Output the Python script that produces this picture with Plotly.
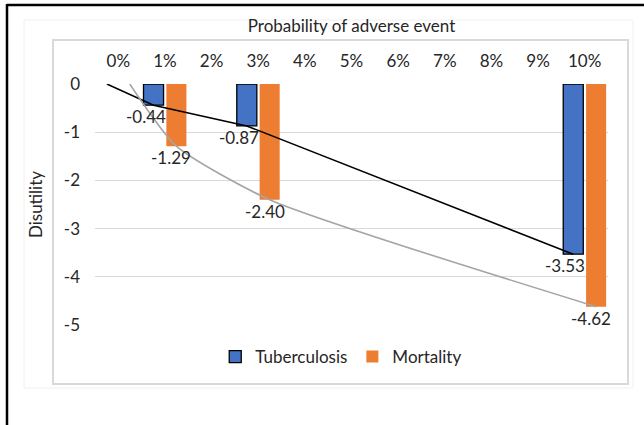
import plotly.graph_objects as go

# Probability of adverse event (percent) and disutility values
prob_pct = [0, 1, 3, 10]
tb_values = [0, -0.44, -0.87, -3.53]
mort_values = [0, -1.29, -2.40, -4.62]
tick_pct = list(range(0, 11))
tick_labels = [f"{p}%" for p in tick_pct]
y_ticks = [0, -1, -2, -3, -4, -5]
y_tick_labels = [str(v) for v in y_ticks]

BLUE = "#4472C4"
ORANGE = "#ED7D31"
GRID = "#D9D9D9"
FONT = "Lato"
FS = 17
TXT = "#262626"

W, H = 644, 425
ML, MR, MT, MB = 95, 36, 84, 100
PW, PH = W - ML - MR, H - MT - MB

BAR_W = 0.43
OFF_TB = -0.46
OFF_MO = 0.03
c_tb = OFF_TB + BAR_W / 2
c_mo = OFF_MO + BAR_W / 2

bar_x = prob_pct[1:]

fig = go.Figure()

fig.add_trace(go.Bar(
    x=bar_x, y=tb_values[1:], name="Tuberculosis",
    width=BAR_W, offset=OFF_TB,
    marker=dict(color=BLUE, line=dict(color="#000000", width=1.3)),
))
fig.add_trace(go.Bar(
    x=bar_x, y=mort_values[1:], name="Mortality",
    width=BAR_W, offset=OFF_MO,
    marker=dict(color=ORANGE, line=dict(width=0)),
))

# Trend lines through the bar ends
fig.add_trace(go.Scatter(
    x=[p + c_tb for p in prob_pct], y=tb_values, mode="lines",
    line=dict(color="#000000", width=1.6), showlegend=False,
    cliponaxis=False, hoverinfo="skip",
))
fig.add_trace(go.Scatter(
    x=[p + c_mo for p in prob_pct], y=mort_values, mode="lines",
    line=dict(color="#A5A5A5", width=1.6, shape="spline", smoothing=0.6),
    showlegend=False, cliponaxis=False, hoverinfo="skip",
))

# Value labels under each bar
annotations = []
for p, v in zip(prob_pct[1:], tb_values[1:]):
    annotations.append(dict(x=p + c_tb, y=v, text=f"{v:.2f}", showarrow=False,
                            xanchor="center", yanchor="top", xshift=-8, yshift=1,
                            font=dict(family=FONT, size=FS, color=TXT)))
for p, v in zip(prob_pct[1:], mort_values[1:]):
    annotations.append(dict(x=p + c_mo, y=v, text=f"{v:.2f}", showarrow=False,
                            xanchor="center", yanchor="top", xshift=-5, yshift=1,
                            font=dict(family=FONT, size=FS, color=TXT)))


def px_x(px):
    return (px - ML) / PW


def px_y(py):
    return (H - MB - py) / PH


shapes = [
    # outer black frame (top and left edges)
    dict(type="line", xref="paper", yref="paper", x0=px_x(7), x1=px_x(660),
         y0=px_y(5), y1=px_y(5), line=dict(color="#000000", width=2.5)),
    dict(type="line", xref="paper", yref="paper", x0=px_x(7), x1=px_x(7),
         y0=px_y(4), y1=px_y(440), line=dict(color="#000000", width=2.5)),
    # chart area border
    dict(type="rect", xref="paper", yref="paper", x0=px_x(24), x1=px_x(633),
         y0=px_y(388), y1=px_y(20), line=dict(color="#F0F0F0", width=1)),
    # plot frame
    dict(type="rect", xref="paper", yref="paper", x0=px_x(53), x1=px_x(628),
         y0=px_y(384), y1=px_y(40), line=dict(color="#D9D9D9", width=2)),
]

fig.update_layout(
    width=W, height=H,
    margin=dict(l=ML, r=MR, t=MT, b=MB),
    paper_bgcolor="white", plot_bgcolor="white",
    font=dict(family=FONT, size=FS, color=TXT),
    barmode="overlay",
    showlegend=True,
    legend=dict(orientation="h", x=0.48, xanchor="center", y=px_y(357), yanchor="middle",
                font=dict(family=FONT, size=FS, color=TXT), traceorder="normal",
                itemwidth=30, bgcolor="rgba(0,0,0,0)"),
    annotations=annotations,
    shapes=shapes,
    xaxis=dict(
        side="top", range=[-0.5, 10.5], tickmode="array",
        tickvals=tick_pct, ticktext=tick_labels,
        showgrid=False, zeroline=False, showline=False, ticks="",
        ticklabelstandoff=13,
        tickfont=dict(family=FONT, size=FS, color=TXT),
        title=dict(text="Probability of adverse event", standoff=12,
                   font=dict(family=FONT, size=FS, color=TXT)),
    ),
    yaxis=dict(
        range=[-5, 0], tickmode="array", tickvals=y_ticks, ticktext=y_tick_labels,
        showgrid=True, gridcolor=GRID, gridwidth=1, zeroline=False,
        showline=False, ticks="", ticklabelstandoff=14,
        tickfont=dict(family=FONT, size=FS, color=TXT),
        title=dict(text="Disutility", standoff=16,
                   font=dict(family=FONT, size=FS, color=TXT)),
    ),
)

fig.write_html("out.html")
